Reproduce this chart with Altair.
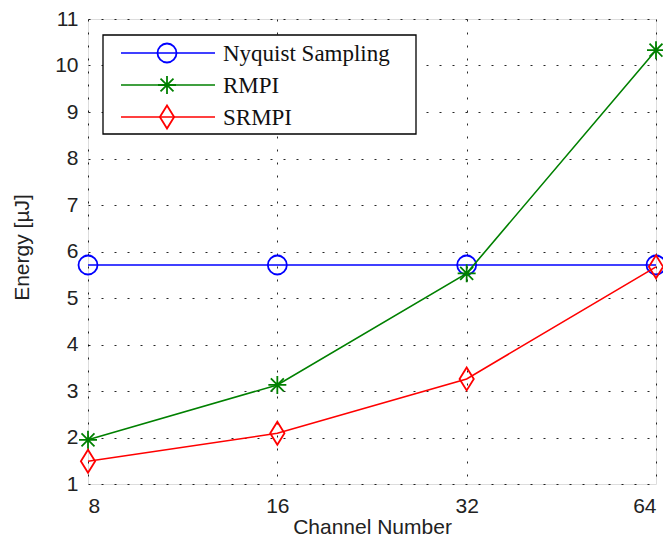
import altair as alt
import pandas as pd

channels = [8, 16, 32, 64]
series_names = ["Nyquist Sampling", "RMPI", "SRMPI"]
nyquist = [5.71, 5.71, 5.71, 5.71]
rmpi = [1.95, 3.13, 5.53, 10.33]
srmpi = [1.49, 2.09, 3.26, 5.67]
colors = ["#0000FF", "#008000", "#FF0000"]
y_ticks = list(range(1, 12))

shape_circle = "circle"
shape_star = "M-1,0L1,0M0,-1L0,1M-0.72,-0.72L0.72,0.72M-0.72,0.72L0.72,-0.72"
shape_diamond = "M0,-1L0.62,0L0,1L-0.62,0Z"
shapes = [shape_circle, shape_star, shape_diamond]
sizes = [361, 324, 529]

rows = []
for name, vals in zip(series_names, [nyquist, rmpi, srmpi]):
    for c, v in zip(channels, vals):
        rows.append({"channel": c, "energy": v, "series": name})
df = pd.DataFrame(rows)

W, H = 568, 465
FONT = "Liberation Sans"

x_enc = alt.X("channel:Q",
              scale=alt.Scale(type="log", base=2, domain=[8, 64], nice=False),
              axis=alt.Axis(values=channels, format="d", title="Channel Number",
                            labelFontSize=21, titleFontSize=21, labelPadding=11,
                            titleBaseline="alphabetic", titleY=49,
                            grid=True, gridDash=[2, 11],
                            gridColor="#000000", gridOpacity=0.85, ticks=False,
                            domain=False, labelFont=FONT,
                            titleFont=FONT, titleFontWeight="normal",
                            labelColor="#222", titleColor="#222"))
y_enc = alt.Y("energy:Q",
              scale=alt.Scale(domain=[1, 11], nice=False),
              axis=alt.Axis(values=y_ticks, title="Energy [µJ]",
                            labelFontSize=21, titleFontSize=21, labelPadding=10,
                            titleX=-56, titleY=228,
                            grid=True, gridDash=[2, 11],
                            gridColor="#000000", gridOpacity=0.85, ticks=False,
                            domain=False, labelFont=FONT,
                            titleFont=FONT, titleFontWeight="normal",
                            labelColor="#222", titleColor="#222"))

layers = []
for name, col, shp, sz in zip(series_names, colors, shapes, sizes):
    sub = df[df.series == name]
    base = alt.Chart(sub).encode(x=x_enc, y=y_enc)
    layers.append(base.mark_line(color=col, strokeWidth=1.6, clip=False))
    layers.append(base.mark_point(shape=shp, size=sz, color=col, filled=False,
                                  strokeWidth=1.8, clip=False, opacity=1))

# legend box (layout only)
box = alt.Chart(pd.DataFrame({"a": [0]})).mark_rect(
    fill="white", stroke="black", strokeWidth=1.3
).encode(x=alt.value(15), x2=alt.value(328), y=alt.value(16), y2=alt.value(115))
legend_layers = [box]
row_y = [34, 66, 98]
for name, col, shp, sz, ry in zip(series_names, colors, shapes, sizes, row_y):
    d = alt.Chart(pd.DataFrame({"series": [name]}))
    legend_layers.append(d.mark_rule(color=col, strokeWidth=1.6).encode(
        x=alt.value(33), x2=alt.value(127), y=alt.value(ry)))
    legend_layers.append(d.mark_point(shape=shp, size=sz, color=col, filled=False,
                                      strokeWidth=1.8, opacity=1).encode(
        x=alt.value(79), y=alt.value(ry)))
    legend_layers.append(d.mark_text(align="left", baseline="middle",
                                     font="Liberation Serif", fontSize=23,
                                     color="#111").encode(
        x=alt.value(135), y=alt.value(ry + 1), text="series:N"))

chart = alt.layer(*layers, *legend_layers).properties(
    width=W, height=H,
    autosize=alt.AutoSizeParams(type="none"),
    padding={"left": 80, "top": 11, "right": 7, "bottom": 56},
).configure_view(stroke="#000000", strokeWidth=1.3).configure(background="white")

chart.save("out.html", embed_options={"renderer": "svg", "actions": False})
